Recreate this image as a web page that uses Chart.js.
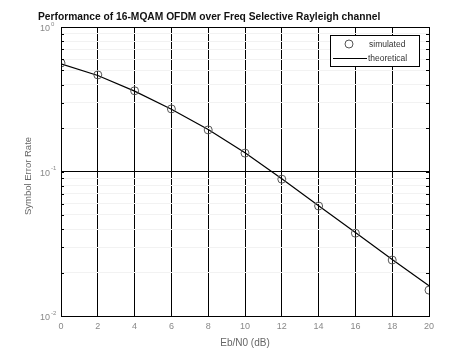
<!DOCTYPE html>
<html>
<head>
<meta charset="utf-8">
<script src="https://cdn.jsdelivr.net/npm/chart.js@4/dist/chart.umd.min.js"></script>
<style>
  html, body { margin: 0; padding: 0; background: #fff; }
  #wrap { width: 473px; height: 354px; }
</style>
</head>
<body>
<div id="wrap"><canvas id="ser"></canvas></div>
<script>
// Eb/N0 in dB
const ebno = [0, 2, 4, 6, 8, 10, 12, 14, 16, 18, 20];
// symbol error rate
const simulated = [0.563, 0.466, 0.362, 0.271, 0.194, 0.134, 0.0885, 0.0577, 0.0374, 0.0244, 0.0151];
const theoretical = [0.556, 0.462, 0.360, 0.270, 0.195, 0.135, 0.0890, 0.0580, 0.0378, 0.0246, 0.0162];

const xTicks = [0, 2, 4, 6, 8, 10, 12, 14, 16, 18, 20];
const yDecades = [1, 0.1, 0.01];
const yExponents = ['0', '-1', '-2'];

const titleText = 'Performance of 16-MQAM OFDM over Freq Selective Rayleigh channel';
const xTitle = 'Eb/N0 (dB)';
const yTitle = 'Symbol Error Rate';

// minor ticks 2..9 in each decade
function minorTicks() {
  let out = [];
  for (let e = -2; e < 0; e++) {
    for (let m = 1; m <= 9; m++) out.push(m * Math.pow(10, e));
  }
  out.push(1);
  return out;
}

const decorations = {
  id: 'decorations',
  afterDraw(chart) {
    const c = chart.ctx;
    const a = chart.chartArea;
    const xs = chart.scales.x, ys = chart.scales.y;
    c.save();

    // minor tick marks on left / right edges
    c.strokeStyle = '#000';
    c.lineWidth = 1;
    minorTicks().forEach(v => {
      const y = Math.round(ys.getPixelForValue(v)) + 0.5;
      c.beginPath();
      c.moveTo(a.left, y); c.lineTo(a.left + 3, y);
      c.moveTo(a.right, y); c.lineTo(a.right - 3, y);
      c.stroke();
    });

    // box
    c.strokeRect(Math.round(a.left) + 0.5, Math.round(a.top) + 0.5,
      Math.round(a.right - a.left), Math.round(a.bottom - a.top));

    // y tick labels 10^n
    c.fillStyle = '#888';
    yDecades.forEach((v, i) => {
      const y = ys.getPixelForValue(v);
      c.font = '9px "Liberation Sans", Arial, sans-serif';
      c.textAlign = 'right';
      c.textBaseline = 'middle';
      c.fillText('10', a.left - 11, y + 2);
      c.font = '6px "Liberation Sans", Arial, sans-serif';
      c.textAlign = 'left';
      c.fillText(yExponents[i], a.left - 10, y - 3);
    });

    // x tick labels
    c.font = '9px "Liberation Sans", Arial, sans-serif';
    c.textAlign = 'center';
    c.textBaseline = 'middle';
    xTicks.forEach(v => {
      c.fillText(String(v), xs.getPixelForValue(v), a.bottom + 11);
    });

    // axis titles
    c.fillStyle = '#666';
    c.font = '10px "Liberation Sans", Arial, sans-serif';
    c.fillText(xTitle, (a.left + a.right) / 2, a.bottom + 27);
    c.save();
    c.translate(28, 176);
    c.rotate(-Math.PI / 2);
    c.font = '9.5px "Liberation Sans", Arial, sans-serif';
    c.fillText(yTitle, 0, 0);
    c.restore();

    // title
    c.fillStyle = '#111';
    c.font = 'bold 10.25px "Liberation Sans", Arial, sans-serif';
    c.textAlign = 'left';
    c.textBaseline = 'alphabetic';
    c.fillText(titleText, 38, 20);

    // legend
    const ds = chart.data.datasets;
    c.fillStyle = '#fff';
    c.fillRect(330, 35, 89, 31);
    c.strokeStyle = '#000';
    c.strokeRect(330.5, 35.5, 89, 31);
    c.strokeStyle = ds[0].borderColor;
    c.lineWidth = 1;
    c.beginPath();
    c.arc(349, 44, 4, 0, Math.PI * 2);
    c.stroke();
    c.strokeStyle = ds[1].borderColor;
    c.lineWidth = ds[1].borderWidth;
    c.beginPath();
    c.moveTo(333, 58.5); c.lineTo(367, 58.5);
    c.stroke();
    c.fillStyle = '#333';
    c.font = '8.5px "Liberation Sans", Arial, sans-serif';
    c.textBaseline = 'middle';
    c.fillText(ds[0].label, 369, 44.5);
    c.fillText(ds[1].label, 368, 58.5);

    c.restore();
  }
};

new Chart(document.getElementById('ser'), {
  type: 'line',
  data: {
    datasets: [{
      label: 'simulated',
      data: ebno.map((x, i) => ({ x: x, y: simulated[i] })),
      showLine: false,
      borderColor: '#555',
      backgroundColor: 'transparent',
      pointRadius: 4,
      pointBorderWidth: 1,
      pointStyle: 'circle'
    }, {
      label: 'theoretical',
      data: ebno.map((x, i) => ({ x: x, y: theoretical[i] })),
      borderColor: '#000',
      borderWidth: 1.2,
      pointRadius: 0,
      tension: 0
    }]
  },
  options: {
    responsive: true,
    maintainAspectRatio: false,
    animation: false,
    events: [],
    layout: { padding: { top: 27, right: 44, left: 0, bottom: 0 } },
    plugins: { legend: { display: false }, title: { display: false }, tooltip: { enabled: false } },
    scales: {
      x: {
        type: 'linear', min: 0, max: 20,
        afterBuildTicks: s => { s.ticks = xTicks.map(v => ({ value: v })); },
        afterFit: s => { s.height = 38; },
        ticks: { display: false },
        border: { display: false },
        grid: { color: '#000', lineWidth: 1, drawTicks: false }
      },
      y: {
        type: 'logarithmic', min: 0.01, max: 1,
        afterBuildTicks: s => { s.ticks = minorTicks().map(v => ({ value: v })); },
        afterFit: s => { s.width = 61; },
        ticks: { display: false },
        border: { display: false },
        grid: {
          drawTicks: false,
          lineWidth: 1,
          color: ctx => {
            const v = ctx.tick ? ctx.tick.value : 1;
            const l = Math.log10(v);
            return Math.abs(l - Math.round(l)) < 1e-6 ? '#000' : '#f2f2f2';
          }
        }
      }
    }
  },
  plugins: [decorations]
});
</script>
</body>
</html>
